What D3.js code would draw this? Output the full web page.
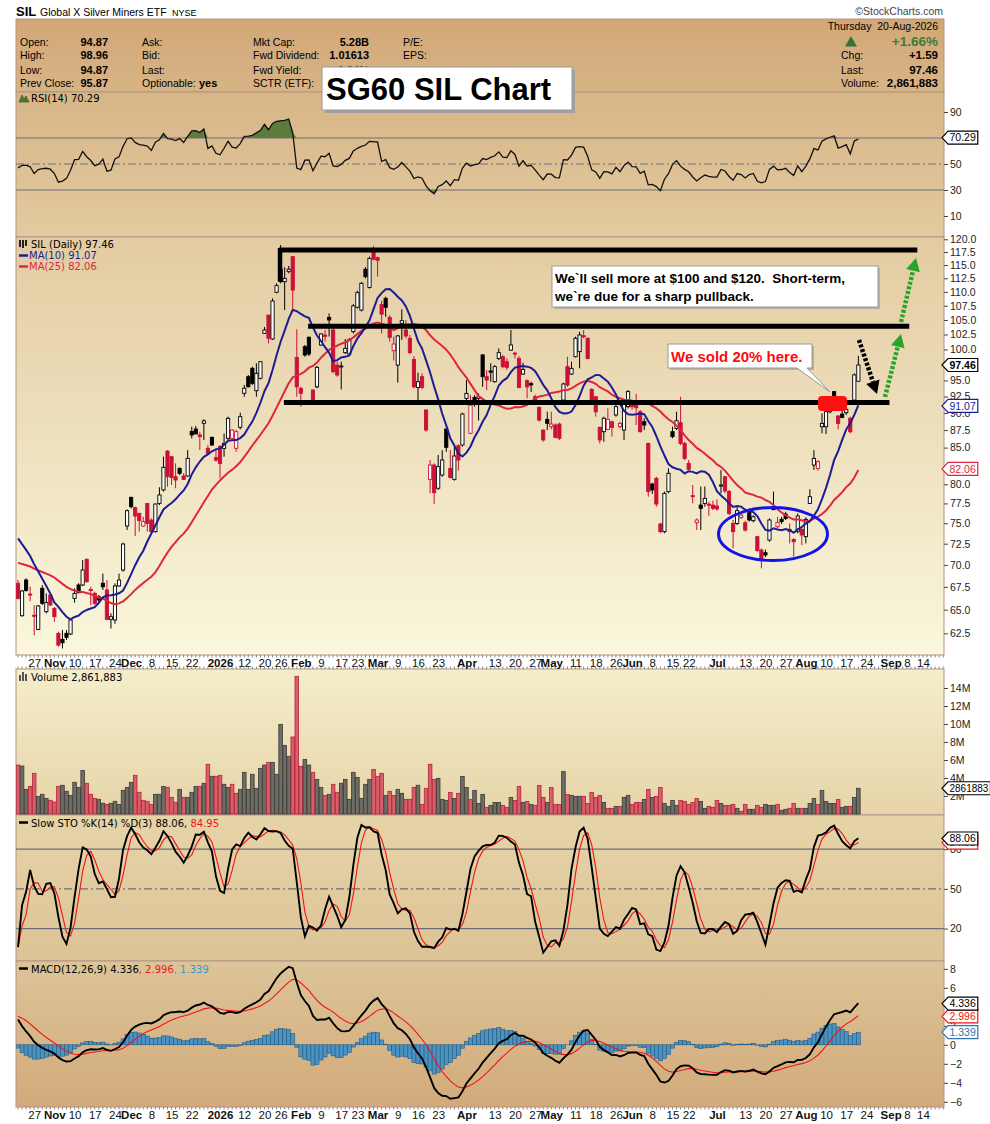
<!DOCTYPE html>
<html lang="en">
<head>
<meta charset="UTF-8">
<title>SG60 SIL Chart</title>
<script src="https://d3js.org/d3.v7.min.js"></script>
<style>
  body { margin: 0; background: #fff; }
  svg text { font-family: "Liberation Sans", Arial, sans-serif; }
  .leg { font-family: "DejaVu Sans", sans-serif !important; font-size: 10px; }
</style>
</head>
<body>
<svg id="chart" width="990" height="1124"></svg>
<script>
// daily candles, 21-Oct-2025 .. 20-Aug-2026
const open = [67.90,64.35,68.27,66.70,64.40,62.90,67.34,64.78,66.60,65.14,
  62.50,61.88,62.50,62.43,66.23,67.71,67.71,70.65,67.20,66.78,
  66.40,67.90,67.15,63.97,63.90,67.60,69.41,74.65,78.28,76.95,
  76.23,74.65,77.50,75.40,73.96,77.50,79.25,84.51,83.74,81.00,
  82.13,81.10,81.10,87.30,87.65,86.80,88.49,84.90,86.46,83.60,
  85.13,84.90,86.32,86.32,84.90,87.90,93.00,95.59,96.92,93.40,
  95.33,102.70,105.85,101.75,109.93,114.20,111.87,113.75,116.60,98.69,
  93.77,100.46,102.04,93.50,94.00,100.74,102.40,105.45,103.27,97.45,
  97.20,99.47,99.25,102.98,107.23,106.74,114.20,110.80,117.80,116.40,
  107.70,108.83,105.45,99.79,97.45,104.42,103.27,101.86,98.36,93.90,
  95.59,90.46,80.65,82.58,79.47,81.23,87.65,82.13,80.65,85.27,
  85.37,92.22,87.04,92.37,92.20,99.09,95.59,96.50,94.80,98.52,
  98.80,97.99,99.90,99.40,98.52,96.01,94.96,94.50,92.47,90.86,
  87.51,89.07,88.00,88.24,88.38,91.96,97.19,96.01,98.80,99.64,
  102.30,101.86,93.60,92.47,87.90,87.27,87.60,88.72,89.72,88.00,
  87.51,90.96,91.71,91.50,90.20,88.72,85.60,80.03,80.78,74.90,
  73.96,79.03,87.27,87.75,88.58,85.60,82.81,78.50,75.06,77.29,
  77.50,77.40,77.29,77.16,79.80,81.00,79.03,74.98,74.98,75.73,
  75.06,76.32,75.32,73.35,71.74,71.43,72.94,77.00,74.57,75.48,
  76.15,74.24,73.02,73.96,74.24,73.35,77.50,82.58,82.13,87.99,
  87.99,90.20,93.26,89.57,89.86,90.06,89.23,91.96,94.87];
const high = [68.27,67.15,68.46,67.53,65.50,65.50,67.71,66.78,66.70,65.30,
  62.67,62.84,62.84,64.07,67.34,67.90,70.57,70.76,67.53,66.97,
  66.60,69.00,68.27,64.60,67.90,69.00,72.62,76.74,78.37,77.08,
  76.32,75.80,77.50,75.60,77.50,79.60,83.74,84.65,83.74,82.81,
  82.27,81.46,84.65,88.00,88.10,87.27,89.10,85.37,86.56,84.90,
  85.37,87.00,89.47,87.60,87.51,90.06,94.30,95.86,97.19,97.72,
  98.10,103.80,105.85,108.83,111.57,118.86,114.57,114.82,116.73,103.38,
  94.00,100.74,102.15,93.60,97.30,102.71,103.27,106.15,104.10,98.00,
  98.00,101.75,101.90,107.80,110.20,111.80,114.60,116.60,118.70,116.60,
  108.40,109.13,105.85,102.15,102.43,106.86,104.99,102.43,98.91,96.23,
  96.12,90.56,83.27,82.81,83.97,84.65,87.75,84.65,85.37,85.46,
  90.06,95.06,92.73,92.73,92.98,99.25,96.65,97.72,97.45,100.18,
  99.09,98.52,103.27,99.60,98.91,97.83,95.17,94.80,92.80,90.96,
  87.60,90.20,90.20,88.48,88.58,94.64,98.80,97.99,102.15,102.98,
  103.27,102.04,93.77,92.57,88.00,89.47,90.71,88.87,91.86,88.72,
  91.71,93.50,92.00,92.90,90.46,89.23,85.70,80.20,81.00,75.06,
  79.03,82.13,88.00,90.20,92.47,85.84,83.27,79.91,75.60,79.69,
  79.69,77.72,77.85,78.02,81.91,81.10,79.25,75.40,77.08,76.23,
  75.32,76.87,76.00,73.43,71.94,71.80,75.60,79.03,75.81,75.80,
  76.44,74.98,73.15,76.23,74.37,75.73,79.34,84.65,83.27,89.96,
  90.71,91.71,93.26,89.72,90.46,90.96,89.47,96.12,98.96];
const low = [66.10,64.25,66.97,65.90,62.30,62.84,65.50,64.60,65.40,63.70,
  61.13,60.96,61.81,62.33,65.76,66.78,67.60,67.97,65.50,65.50,
  65.80,67.15,63.86,63.00,63.50,67.53,69.22,74.16,76.87,73.43,
  73.96,74.57,73.96,73.76,73.84,77.29,79.03,79.69,79.90,79.47,
  81.23,80.56,81.00,86.30,86.94,84.66,86.08,83.97,85.22,83.04,
  80.78,83.74,86.08,86.08,84.42,87.60,92.47,93.93,94.28,92.47,
  95.17,102.70,101.00,101.58,109.74,111.57,106.74,113.44,106.74,92.47,
  90.96,98.80,98.91,91.86,93.77,100.57,101.30,102.15,96.12,95.59,
  93.60,99.25,99.00,102.70,107.00,106.50,112.50,110.60,115.90,112.80,
  102.70,105.56,101.30,98.20,94.64,101.58,101.86,99.25,93.77,91.96,
  93.60,87.27,78.81,77.42,79.25,81.00,84.42,80.78,80.47,81.82,
  85.13,91.20,86.94,90.96,88.90,94.00,93.50,94.80,94.64,98.25,
  96.92,96.65,99.80,98.50,93.77,95.86,92.22,93.20,91.70,88.72,
  85.84,87.51,87.60,86.32,86.08,91.86,94.00,95.86,98.69,96.92,
  101.86,98.36,91.20,89.47,85.60,85.84,87.51,86.56,89.47,87.75,
  86.08,90.71,90.50,88.24,87.13,87.51,78.37,78.72,77.08,73.76,
  73.76,78.81,86.32,87.51,85.37,83.27,81.91,77.50,74.16,74.16,
  77.08,75.94,76.65,76.57,78.80,78.81,76.01,71.94,74.77,75.52,
  73.96,75.20,75.10,71.55,69.60,70.90,72.74,76.65,74.37,74.90,
  75.40,72.54,70.96,73.76,72.34,72.54,77.42,81.91,81.82,87.04,
  86.94,89.96,90.46,87.60,89.23,89.72,87.04,91.71,94.87];
const close = [66.23,67.04,67.10,66.60,64.30,65.40,65.69,65.76,65.50,64.25,
  61.30,61.54,62.09,63.90,66.78,66.85,69.41,68.08,67.10,65.69,
  66.05,67.50,63.97,64.25,67.60,68.27,72.46,76.57,77.08,75.90,
  75.32,75.20,74.98,73.96,77.42,78.59,82.27,81.01,80.90,80.56,
  81.46,80.65,83.50,86.80,86.94,86.56,88.84,84.20,85.37,83.27,
  82.81,85.60,89.23,87.51,87.27,89.47,93.77,94.00,94.54,96.12,
  97.99,103.27,101.86,108.35,111.14,111.87,112.49,114.20,110.33,94.00,
  93.00,99.09,99.25,91.96,97.08,102.60,102.20,105.00,96.39,95.86,
  97.30,100.18,101.58,107.47,109.86,111.57,112.80,116.28,116.10,115.90,
  106.03,107.23,102.03,100.90,102.26,104.88,102.26,99.47,94.00,94.80,
  93.90,87.51,82.58,78.89,82.36,83.27,85.04,80.90,83.83,83.27,
  89.86,92.98,91.20,91.96,92.47,95.59,95.06,96.30,97.19,99.47,
  97.19,97.08,100.74,99.30,93.90,96.76,94.00,94.30,91.96,88.97,
  86.08,88.48,88.38,86.46,86.32,94.44,94.28,96.92,101.86,102.43,
  102.20,98.52,91.46,90.20,86.08,89.23,89.07,87.90,90.96,88.48,
  91.46,93.26,90.96,90.80,87.27,88.24,79.03,79.25,77.42,73.96,
  78.81,81.46,86.56,88.87,85.60,83.50,82.00,78.37,75.40,76.87,
  78.15,77.30,76.87,76.80,79.90,79.12,76.23,73.96,76.57,76.01,
  74.16,75.40,75.81,71.67,70.76,71.16,75.40,76.70,75.10,75.20,
  75.60,73.96,72.74,75.90,73.55,75.48,78.37,83.50,83.04,88.48,
  90.20,91.46,92.62,88.48,89.37,90.56,87.27,95.87,97.46];
// volume, millions of shares
const volume = [5.44,5.33,2.74,3.07,4.52,1.96,2.19,1.74,1.52,1.33,
  3.07,3.19,2.52,2.07,3.52,2.96,4.85,3.41,2.19,1.74,
  1.63,1.19,1.07,1.19,1.41,1.07,2.63,2.96,3.52,4.30,
  2.41,1.52,1.41,1.07,2.19,2.19,3.07,2.96,1.85,1.30,
  2.74,1.85,1.85,2.41,3.07,3.07,3.41,5.52,4.19,4.19,
  4.30,3.30,2.96,3.30,2.30,2.74,4.63,2.74,4.41,2.85,
  5.07,5.44,5.74,5.74,4.41,9.96,7.63,6.41,8.56,15.30,
  5.30,6.07,5.44,4.63,3.85,2.96,2.07,2.19,3.30,2.41,
  3.41,3.85,1.63,4.63,4.07,1.74,3.30,3.85,4.96,4.19,
  4.52,2.07,2.52,2.07,2.74,2.30,1.63,1.63,2.96,3.19,
  1.07,2.85,5.52,3.85,3.96,1.62,1.51,2.40,1.73,2.29,
  4.17,2.95,1.62,2.62,1.18,2.18,0.74,0.96,1.29,1.29,
  0.96,0.74,1.85,1.51,3.06,1.29,1.40,1.07,0.96,3.17,
  1.85,1.29,2.95,1.07,1.07,4.72,2.18,2.07,1.96,1.96,
  1.96,1.18,2.40,1.85,2.07,1.29,0.63,0.63,0.85,0.85,
  1.85,2.07,1.07,1.29,1.29,1.62,2.73,1.85,1.96,2.95,
  1.18,0.85,1.51,0.96,1.51,1.40,1.07,1.29,1.73,1.40,
  0.63,0.85,0.74,1.51,1.18,0.96,0.96,1.07,0.63,0.30,
  1.07,0.52,0.52,0.96,0.74,1.07,0.96,0.96,1.07,0.41,
  0.52,0.63,1.18,0.63,0.63,0.63,1.18,1.73,1.07,2.62,
  1.40,1.18,1.18,1.62,0.74,0.85,0.85,1.85,2.86];

const firstDay = "2025-10-21";
const holidays = ["2025-11-27","2025-12-25","2026-01-01","2026-01-19","2026-02-16",
  "2026-04-03","2026-05-25","2026-06-19","2026-07-03","2026-09-07"];
const dateTicks = [["2025-10-27","27"],["2025-11-03","Nov"],["2025-11-10","10"],["2025-11-17","17"],
  ["2025-11-24","24"],["2025-12-01","Dec"],["2025-12-08","8"],["2025-12-15","15"],["2025-12-22","22"],
  ["2026-01-02","2026"],["2026-01-12","12"],["2026-01-20","20"],["2026-01-26","26"],["2026-02-02","Feb"],
  ["2026-02-09","9"],["2026-02-17","17"],["2026-02-23","23"],["2026-03-02","Mar"],["2026-03-09","9"],
  ["2026-03-16","16"],["2026-03-23","23"],["2026-04-01","Apr"],["2026-04-13","13"],["2026-04-20","20"],
  ["2026-04-27","27"],["2026-05-01","May"],["2026-05-11","11"],["2026-05-18","18"],["2026-05-26","26"],
  ["2026-06-01","Jun"],["2026-06-08","8"],["2026-06-15","15"],["2026-06-22","22"],["2026-07-01","Jul"],
  ["2026-07-13","13"],["2026-07-20","20"],["2026-07-27","27"],["2026-08-03","Aug"],["2026-08-10","10"],
  ["2026-08-17","17"],["2026-08-24","24"],["2026-09-01","Sep"],["2026-09-08","8"],["2026-09-14","14"]];
const boldTicks = ["Nov","Dec","2026","Feb","Mar","Apr","May","Jun","Jul","Aug","Sep"];

// right-axis labels (those fully hidden under the value tags are left out)
const priceTicks = [62.5,65,67.5,70,72.5,75,77.5,80,82.5,85,87.5,90,92.5,95,100,102.5,105,107.5,110,112.5,115,117.5,120];
const volTicks = [2, 4, 6, 8, 10, 12, 14];
const rsiTicks = [10, 30, 50, 90];
const stoTicks = [20, 50, 80];
const macdTicks = [-6, -4, -2, 0, 2, 6, 8];

// indicator levels at the left edge of the chart
const ma10Start = 73.9, ma25Start = 70.4;
const ema12Start = 74.6, ema26Start = 71.0, signalStart = 3.1;
const rsiGainStart = 0.80, rsiLossStart = 0.90;

// values printed on the chart
const lastClose = 97.46, lastMA10 = 91.07, lastMA25 = 82.06, lastRSI = 70.29;
const lastVolume = 2861883, stoK = 88.06, stoD = 84.95;
const macdVal = 4.336, macdSig = 2.996, macdHist = 1.339;
const quoteLeft = [["Open:","94.87"],["High:","98.96"],["Low:","94.87"],["Prev Close:","95.87"]];
const quoteMid = [["Ask:",""],["Bid:",""],["Last:",""],["Optionable:","yes"]];
const quoteFund = [["Mkt Cap:","5.28B"],["Fwd Dividend:","1.01613"],["Fwd Yield:","1.24%"],["SCTR (ETF):",""]];
const quoteRatio = [["P/E:",""],["EPS:",""]];
const quoteRight = [["Chg:","+1.59"],["Last:","97.46"],["Volume:","2,861,883"]];
// hand-drawn levels: [price, from-bar, to-bar]
const levels = [[117.9, 64.6, 222.6], [103.9, 71.8, 220.6], [91.6, 65.8, 215.7]];

const RED = "#cc1036", NAVY = "#1c1c96", MARED = "#e0253f";
const L = 16, R = 944;
const svg = d3.select("#chart");
const defs = svg.append("defs");

// trading calendar
const days = [];
for (let d = new Date(firstDay + "T00:00:00Z"); days.length < 240; d.setUTCDate(d.getUTCDate() + 1)) {
  const s = d.toISOString().slice(0, 10), wd = d.getUTCDay();
  if (wd === 0 || wd === 6 || holidays.includes(s)) continue;
  days.push(s);
}
const dayIdx = new Map(days.map((s, i) => [s, i]));
const n = close.length;
const idx = d3.range(n);

const x = d3.scaleLinear().domain([-0.5, 229.2]).range([L, R]);

// ---- indicators
function sma(a, p, seed) {
  return a.map((d, i) => {
    const s = a.slice(Math.max(0, i - p + 1), i + 1);
    return seed === undefined ? d3.mean(s) : (d3.sum(s) + (p - s.length) * seed) / p;
  });
}
function ema(a, p, seed) {
  const k = 2 / (p + 1), o = [];
  a.forEach((v, i) => o.push(v * k + (i ? o[i - 1] : seed) * (1 - k)));
  return o;
}
const ma10 = sma(close, 10, ma10Start), ma25 = sma(close, 25, ma25Start);
const rsi = []; let ag = rsiGainStart, al = rsiLossStart;
close.forEach((c, i) => {
  if (i) {
    const ch = c - close[i - 1];
    ag = (ag * 13 + Math.max(ch, 0)) / 14; al = (al * 13 + Math.max(-ch, 0)) / 14;
  }
  rsi.push(100 - 100 / (1 + ag / al));
});
const fastK = close.map((c, i) => {
  const lo = d3.min(low.slice(Math.max(0, i - 13), i + 1)), hi = d3.max(high.slice(Math.max(0, i - 13), i + 1));
  return hi === lo ? 50 : (c - lo) / (hi - lo) * 100;
});
const slowK = sma(fastK, 3), slowD = sma(slowK, 3);
const e12 = ema(close, 12, ema12Start), e26 = ema(close, 26, ema26Start);
const macd = e12.map((v, i) => v - e26[i]);
const signal = ema(macd, 9, signalStart);
const hist = macd.map((v, i) => v - signal[i]);

const prevClose = i => i ? close[i - 1] : open[0];
const candleCol = i => close[i] < prevClose(i) ? RED : "#000";

// ---- panels
const panels = [
  { id: "hdr", y0: 19, y1: 92, c0: "#d2a777", c1: "#d7b486" },
  { id: "rsi", y0: 92, y1: 237, c0: "#d7b586", c1: "#e3caa0" },
  { id: "px", y0: 237, y1: 655, c0: "#e3cba1", c1: "#faf7dc" },
  { id: "vol", y0: 669, y1: 815, c0: "#f5eecb", c1: "#e6d4a8" },
  { id: "sto", y0: 815, y1: 961, c0: "#e6d4a9", c1: "#dcc396" },
  { id: "macd", y0: 961, y1: 1107, c0: "#dcc499", c1: "#d2aa7a" }
];
panels.forEach(p => {
  const g = defs.append("linearGradient").attr("id", "g-" + p.id).attr("x1", 0).attr("x2", 0).attr("y1", 0).attr("y2", 1);
  g.append("stop").attr("offset", "0%").attr("stop-color", p.c0);
  g.append("stop").attr("offset", "100%").attr("stop-color", p.c1);
  defs.append("clipPath").attr("id", "c-" + p.id).append("rect")
    .attr("x", L).attr("y", p.y0).attr("width", R - L).attr("height", p.y1 - p.y0);
  svg.append("rect").attr("x", L).attr("y", p.y0).attr("width", R - L).attr("height", p.y1 - p.y0)
    .attr("fill", `url(#g-${p.id})`).attr("stroke", "#b49383").attr("stroke-width", 1);
});

// ---- scales
const y = d3.scaleLog().domain([60.3, 120.46]).range([655, 237]);
const yR = d3.scaleLinear().domain([0, 100]).range([229, 99]);
const yV = d3.scaleLinear().domain([0, 14]).range([814, 688]);
const yS = d3.scaleLinear().domain([0, 100]).range([955, 822.7]);
const yM = d3.scaleLinear().domain([-6, 8]).range([1101.8, 968.8]);

function rightAxis(scale, vals, fmt) {
  const g = svg.append("g").attr("transform", `translate(${R},0)`)
    .call(d3.axisRight(scale).tickValues(vals).tickFormat(fmt).tickSize(4).tickPadding(2));
  g.select(".domain").remove();
  g.selectAll("line").attr("stroke", "#444");
  g.selectAll("text").attr("font-size", 10.5).attr("fill", "#222")
    .attr("font-family", "Liberation Sans, Arial, sans-serif");
}
function hline(scale, v, dash) {
  svg.append("line").attr("x1", L).attr("x2", R).attr("y1", scale(v)).attr("y2", scale(v))
    .attr("stroke", "#6e6e78").attr("stroke-width", 1.2).attr("stroke-dasharray", dash || null);
}
function tag(yy, txt, col, bold, fs) {
  const g = svg.append("g");
  const p = g.append("path");
  const t = g.append("text").attr("x", R + 5.5).attr("y", yy + 3.7).attr("font-size", fs || 10.5)
    .attr("font-weight", bold ? "bold" : "normal").attr("fill", col).text(txt);
  const w = t.node().getComputedTextLength() + 3.5;
  p.attr("d", `M${R - 2},${yy} l6,-6.5 h${w} v13 h${-w} z`)
    .attr("fill", "#fff").attr("stroke", col).attr("stroke-width", 1.2);
}
function legendDash(xx, yy, col) {
  svg.append("line").attr("x1", xx).attr("x2", xx + 9).attr("y1", yy).attr("y2", yy)
    .attr("stroke", col).attr("stroke-width", 2.5);
}

// ---- header
svg.append("text").attr("x", 16).attr("y", 16).attr("font-size", 13).attr("font-weight", "bold").text("SIL");
svg.append("text").attr("x", 40).attr("y", 16).attr("font-size", 10.5).text("Global X Silver Miners ETF");
svg.append("text").attr("x", 172).attr("y", 16).attr("font-size", 9).text("NYSE");
svg.append("text").attr("x", 943).attr("y", 15).attr("text-anchor", "end").attr("font-size", 10.5)
  .attr("fill", "#444").text("\u00A9StockCharts.com");
const rowY = [45.5, 59, 73.5, 87];
function quoteCol(rows, lx, vx, anchor) {
  rows.forEach((r, k) => {
    svg.append("text").attr("x", lx).attr("y", rowY[k]).attr("font-size", 10.5).text(r[0]);
    if (r[1]) svg.append("text").attr("x", vx).attr("y", rowY[k]).attr("font-size", 11)
      .attr("font-weight", "bold").attr("text-anchor", anchor).text(r[1]);
  });
}
quoteCol(quoteLeft, 20, 108, "end");
quoteCol(quoteMid, 142, 199, "start");
quoteCol(quoteFund, 253, 369, "end");
quoteCol(quoteRatio, 403, 460, "end");
svg.append("text").attr("x", 938).attr("y", 29.5).attr("text-anchor", "end").attr("font-size", 10.5)
  .style("white-space", "pre").text("Thursday  20-Aug-2026");
svg.append("path").attr("d", "M845,46.5 L851,36 L857,46.5 Z").attr("fill", "#3a7236");
svg.append("text").attr("x", 938).attr("y", 46).attr("text-anchor", "end").attr("font-size", 13.5)
  .attr("font-weight", "bold").attr("fill", "#3d7a3a").text("+1.66%");
quoteRight.forEach((r, k) => {
  svg.append("text").attr("x", 841).attr("y", rowY[k + 1]).attr("font-size", 10.5).text(r[0]);
  svg.append("text").attr("x", 938).attr("y", rowY[k + 1]).attr("font-size", 11.5).attr("font-weight", "bold")
    .attr("text-anchor", "end").text(r[1]);
});

// ---- RSI
hline(yR, 70); hline(yR, 30); hline(yR, 50, "8,3,2,3");
const gR = svg.append("g").attr("clip-path", "url(#c-rsi)");
gR.append("path").datum(rsi).attr("fill", "#5b7c3a").attr("stroke", "none")
  .attr("d", d3.area().x((d, i) => x(i)).y0(yR(70)).y1(d => yR(Math.max(d, 70))));
gR.append("path").datum(rsi).attr("fill", "#5b7c3a").attr("stroke", "none")
  .attr("d", d3.area().x((d, i) => x(i)).y0(yR(30)).y1(d => yR(Math.min(d, 30))));
gR.append("path").datum(rsi).attr("fill", "none").attr("stroke", "#111").attr("stroke-width", 1.3)
  .attr("d", d3.line().x((d, i) => x(i)).y(d => yR(d)));
rightAxis(yR, rsiTicks, d3.format("d"));
tag(yR(lastRSI), lastRSI.toFixed(2), "#000", false);
svg.append("path").attr("d", "M19,102 l3,-7 l2,4 l2,-3 l3,6 z").attr("fill", "#4d7a35").attr("stroke", "#2c4a20").attr("stroke-width", 0.6);
svg.append("text").attr("class", "leg").attr("x", 31).attr("y", 102).text("RSI(14) " + lastRSI.toFixed(2));

// ---- price
const gP = svg.append("g").attr("clip-path", "url(#c-px)");
gP.selectAll("line.wick").data(idx).join("line").attr("class", "wick")
  .attr("x1", i => x(i)).attr("x2", i => x(i)).attr("y1", i => y(high[i])).attr("y2", i => y(low[i]))
  .attr("stroke", candleCol).attr("stroke-width", 1);
gP.selectAll("rect.body").data(idx).join("rect").attr("class", "body")
  .attr("x", i => x(i) - 1.6).attr("width", 3.2)
  .attr("y", i => y(Math.max(open[i], close[i])))
  .attr("height", i => Math.max(1, y(Math.min(open[i], close[i])) - y(Math.max(open[i], close[i]))))
  .attr("fill", i => close[i] >= open[i] ? "#fff" : candleCol(i))
  .attr("stroke", candleCol).attr("stroke-width", 0.9);
gP.append("path").datum(ma25).attr("fill", "none").attr("stroke", MARED).attr("stroke-width", 2)
  .attr("d", d3.line().x((d, i) => x(i)).y(d => y(d)));
gP.append("path").datum(ma10).attr("fill", "none").attr("stroke", NAVY).attr("stroke-width", 2)
  .attr("d", d3.line().x((d, i) => x(i)).y(d => y(d)));

// support / resistance lines
levels.forEach(l => {
  gP.append("line").attr("x1", x(l[1])).attr("x2", x(l[2])).attr("y1", y(l[0])).attr("y2", y(l[0]))
    .attr("stroke", "#000").attr("stroke-width", 5);
});
gP.append("line").attr("x1", x(64.85)).attr("x2", x(64.85)).attr("y1", y(117.9) - 2).attr("y2", y(111.9))
  .attr("stroke", "#000").attr("stroke-width", 4.5);

rightAxis(y, priceTicks, d3.format(".1f"));
tag(y(lastMA25), lastMA25.toFixed(2), MARED, false);
tag(y(lastMA10), lastMA10.toFixed(2), NAVY, false);
tag(y(lastClose), lastClose.toFixed(2), "#000", true);

svg.append("path").attr("d", "M20,247 v-7 M23,248 v-8 M26,246 v-6").attr("stroke", "#222").attr("stroke-width", 2);
svg.append("text").attr("class", "leg").attr("x", 31).attr("y", 247.5).text("SIL (Daily) " + lastClose.toFixed(2));
legendDash(19, 255.5, NAVY);
svg.append("text").attr("class", "leg").attr("x", 29).attr("y", 259).attr("fill", NAVY).text("MA(10) " + lastMA10.toFixed(2));
legendDash(19, 266.5, MARED);
svg.append("text").attr("class", "leg").attr("x", 29).attr("y", 270).attr("fill", MARED).text("MA(25) " + lastMA25.toFixed(2));

// ---- annotations
const ann = svg.append("g");
ann.append("rect").attr("x", 325).attr("y", 70).attr("width", 250).attr("height", 43).attr("fill", "#a0a0a0");
ann.append("rect").attr("x", 322).attr("y", 67).attr("width", 250).attr("height", 43)
  .attr("fill", "#fff").attr("stroke", "#999");
ann.append("text").attr("x", 326).attr("y", 100).attr("font-size", 31).attr("font-weight", "bold").text("SG60 SIL Chart");

ann.append("rect").attr("x", 554).attr("y", 268).attr("width", 326).attr("height", 41).attr("fill", "#b8b0a0");
ann.append("rect").attr("x", 552).attr("y", 266).attr("width", 326).attr("height", 41)
  .attr("fill", "#fff").attr("stroke", "#999");
ann.append("text").attr("x", 555).attr("y", 282.5).attr("font-size", 13.5).attr("font-weight", "bold")
  .style("white-space", "pre").text("We`ll sell more at $100 and $120.  Short-term,");
ann.append("text").attr("x", 555).attr("y", 300.5).attr("font-size", 13.5).attr("font-weight", "bold")
  .text("we`re due for a sharp pullback.");

ann.append("path").attr("d", "M670,346 h144 v24 h-144 z").attr("fill", "#b8b0a0");
ann.append("path").attr("d", "M668,344 h144 v24 h-5 L830,392 L797,368 h-129 z")
  .attr("fill", "#fff").attr("stroke", "#999");
ann.append("text").attr("x", 671).attr("y", 361.5).attr("font-size", 15).attr("font-weight", "bold")
  .attr("fill", "#ff0a0a").text("We sold 20% here.");
ann.append("rect").attr("x", 818).attr("y", 396).attr("width", 29).attr("height", 15).attr("rx", 4)
  .attr("fill", "#ff1010");
ann.append("ellipse").attr("cx", 773).attr("cy", 534).attr("rx", 54.5).attr("ry", 26.5)
  .attr("fill", "none").attr("stroke", "#1414e8").attr("stroke-width", 3);

function arrow(x1, y1, x2, y2, col) {
  const a = Math.atan2(y2 - y1, x2 - x1), len = 13, hw = 7;
  const bx = x2 - len * Math.cos(a), by = y2 - len * Math.sin(a);
  ann.append("line").attr("x1", x1).attr("y1", y1).attr("x2", bx).attr("y2", by)
    .attr("stroke", col).attr("stroke-width", 4.5).attr("stroke-dasharray", "3,1.8");
  ann.append("path").attr("d", `M${x2},${y2} L${bx + hw * Math.sin(a)},${by - hw * Math.cos(a)} L${bx - hw * Math.sin(a)},${by + hw * Math.cos(a)} Z`)
    .attr("fill", col);
}
arrow(859, 340, 877, 394, "#000");
arrow(885, 397, 901, 334, "#29a329");
arrow(901, 322, 916, 258, "#29a329");

// ---- date axes
const tickPos = dateTicks.map(t => dayIdx.get(t[0]));
function dateAxis(yTop) {
  const g = svg.append("g").attr("transform", `translate(0,${yTop})`)
    .call(d3.axisBottom(x).tickValues(tickPos).tickFormat((d, k) => dateTicks[k][1]).tickSize(0).tickPadding(3.5));
  g.select(".domain").remove();
  g.selectAll("text").attr("font-size", 11.5).attr("fill", "#111")
    .attr("font-family", "Liberation Sans, Arial, sans-serif")
    .attr("font-weight", (d, k) => boldTicks.includes(dateTicks[k][1]) ? "bold" : "normal");
}
function dayTicks(y0, y1) {
  svg.append("g").selectAll("line").data(d3.range(0, 230)).join("line")
    .attr("x1", d => x(d)).attr("x2", d => x(d)).attr("y1", y0).attr("y2", y1)
    .attr("stroke", "#8a8a8a").attr("stroke-width", 1);
}
dayTicks(655, 657.5); dayTicks(666.5, 669); dayTicks(1107, 1109.5);
dateAxis(655);
dateAxis(1107);

// ---- volume
const gV = svg.append("g").attr("clip-path", "url(#c-vol)");
gV.selectAll("rect").data(idx).join("rect")
  .attr("x", i => x(i) - 1.8).attr("width", 3.6)
  .attr("y", i => yV(volume[i])).attr("height", i => yV(0) - yV(volume[i]))
  .attr("fill", i => candleCol(i) === RED ? "#d6606a" : "#6e6d66")
  .attr("stroke", i => candleCol(i) === RED ? "#b8213a" : "#3a3a36").attr("stroke-width", 0.8);
rightAxis(yV, volTicks, d => d + "M");
tag(yV(lastVolume / 1e6), String(lastVolume), "#000", false, 10);
svg.append("path").attr("d", "M20,681 v-6 M23,681 v-9 M26,681 v-7").attr("stroke", "#555").attr("stroke-width", 2);
svg.append("text").attr("class", "leg").attr("x", 31).attr("y", 680.5).text("Volume " + d3.format(",")(lastVolume));

// ---- slow stochastics
hline(yS, 80); hline(yS, 20); hline(yS, 50, "8,3,2,3");
const gS = svg.append("g").attr("clip-path", "url(#c-sto)");
gS.append("path").datum(slowD).attr("fill", "none").attr("stroke", "#f01414").attr("stroke-width", 1.1)
  .attr("d", d3.line().x((d, i) => x(i)).y(d => yS(d)));
gS.append("path").datum(slowK).attr("fill", "none").attr("stroke", "#000").attr("stroke-width", 1.9)
  .attr("d", d3.line().x((d, i) => x(i)).y(d => yS(d)));
rightAxis(yS, stoTicks, d3.format("d"));
tag(yS(stoD), stoD.toFixed(2), "#f01414", false);
tag(yS(stoK), stoK.toFixed(2), "#000", false);
legendDash(19, 822.5, "#000");
const sl = svg.append("text").attr("class", "leg").attr("x", 31).attr("y", 826.5);
sl.append("tspan").text(`Slow STO %K(14) %D(3) ${stoK.toFixed(2)}, `);
sl.append("tspan").attr("fill", "#f01414").text(stoD.toFixed(2));

// ---- MACD
const gM = svg.append("g").attr("clip-path", "url(#c-macd)");
gM.selectAll("rect").data(idx).join("rect")
  .attr("x", i => x(i) - 2).attr("width", 4)
  .attr("y", i => yM(Math.max(0, hist[i]))).attr("height", i => Math.abs(yM(hist[i]) - yM(0)))
  .attr("fill", "#4a93c4").attr("stroke", "#245a80").attr("stroke-width", 0.6);
gM.append("path").datum(signal).attr("fill", "none").attr("stroke", "#f01414").attr("stroke-width", 1.1)
  .attr("d", d3.line().x((d, i) => x(i)).y(d => yM(d)));
gM.append("path").datum(macd).attr("fill", "none").attr("stroke", "#000").attr("stroke-width", 1.9)
  .attr("d", d3.line().x((d, i) => x(i)).y(d => yM(d)));
rightAxis(yM, macdTicks, d3.format("d"));
tag(yM(macdHist), macdHist.toFixed(3), "#2f78b4", false);
tag(yM(macdSig), macdSig.toFixed(3), "#f01414", false);
tag(yM(macdVal), macdVal.toFixed(3), "#000", false);
legendDash(19, 968.5, "#000");
const ml = svg.append("text").attr("class", "leg").attr("x", 31).attr("y", 972.5);
ml.append("tspan").text(`MACD(12,26,9) ${macdVal.toFixed(3)}`);
ml.append("tspan").attr("fill", "#f01414").text(`, ${macdSig.toFixed(3)}`);
ml.append("tspan").attr("fill", "#3399cc").text(`, ${macdHist.toFixed(3)}`);
</script>
</body>
</html>
